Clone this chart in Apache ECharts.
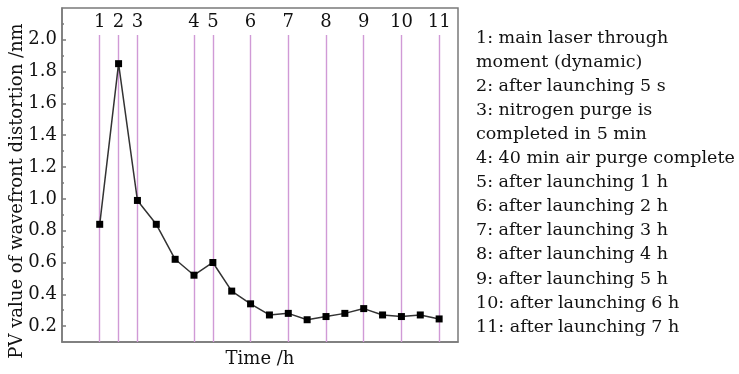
<!DOCTYPE html>
<html>
<head>
<meta charset="utf-8">
<script src="https://cdn.jsdelivr.net/npm/echarts@6/dist/echarts.min.js"></script>
<style>
html,body{margin:0;padding:0;background:#fff;}
#chart{width:739px;height:374px;}
</style>
</head>
<body>
<div id="chart"></div>
<script>
// measurement index (x) and PV value (nm)
const xIndex = [1,2,3,4,5,6,7,8,9,10,11,12,13,14,15,16,17,18,19];
const pvValues = [0.84,1.85,0.99,0.84,0.62,0.52,0.60,0.42,0.34,0.27,0.28,0.24,0.26,0.28,0.31,0.27,0.26,0.27,0.245];
// event markers (vertical lines) at measurement index
const eventIdx = [1,2,3,6,7,9,11,13,15,17,19];
const eventLabels = ['1','2','3','4','5','6','7','8','9','10','11'];
const legendLines = [
  '1: main laser through',
  'moment (dynamic)',
  '2: after launching 5 s',
  '3: nitrogen purge is',
  'completed in 5 min',
  '4: 40 min air purge complete',
  '5: after launching 1 h',
  '6: after launching 2 h',
  '7: after launching 3 h',
  '8: after launching 4 h',
  '9: after launching 5 h',
  '10: after launching 6 h',
  '11: after launching 7 h'
];
const yTickLabels = [0.2,0.4,0.6,0.8,1.0,1.2,1.4,1.6,1.8,2.0];
const yMinorTicks = [0.3,0.5,0.7,0.9,1.1,1.3,1.5,1.7,1.9,2.1];
const yTitle = 'PV value of wavefront distortion /nm';
const xTitle = 'Time /h';

const FONT = 'DejaVu Serif';
const chart = echarts.init(document.getElementById('chart'));
const axisGray = '#7a7a7a';
const markColor = '#d09ad6';

const markData = eventIdx.map((x, i) => [
  {coord: [x, 0.1], name: eventLabels[i], lineStyle: {color: markColor, width: 1.4}},
  {coord: [x, 2.03]}
]);

chart.setOption({
  animation: false,
  backgroundColor: '#fff',
  textStyle: {fontFamily: FONT},
  grid: {left: 62, right: 281, top: 8, bottom: 32, outerBoundsMode: 'none', containLabel: false,
         show: true, borderColor: axisGray, borderWidth: 1.5, backgroundColor: 'transparent'},
  xAxis: {
    type: 'value', min: -1, max: 20,
    name: xTitle, nameLocation: 'middle', nameGap: 8,
    nameTextStyle: {fontFamily: FONT, fontSize: 18, color: '#111'},
    axisLine: {show: true, onZero: false, lineStyle: {color: axisGray, width: 1.5}},
    axisTick: {show: false}, axisLabel: {show: false}, splitLine: {show: false}
  },
  yAxis: [{
    type: 'value', min: 0.1, max: 2.2,
    axisLine: {show: true, onZero: false, lineStyle: {color: axisGray, width: 1.5}},
    axisTick: {show: true, inside: true, length: 4, lineStyle: {color: axisGray, width: 1.5}, customValues: yTickLabels},
    axisLabel: {fontFamily: FONT, fontSize: 18, color: '#111', margin: 5, customValues: yTickLabels, formatter: v => v.toFixed(1)},
    splitLine: {show: false}
  }, {
    type: 'value', min: 0.1, max: 2.2, position: 'left',
    axisLine: {show: false, onZero: false},
    axisTick: {show: true, inside: true, length: 2, lineStyle: {color: axisGray, width: 1.5}, customValues: yMinorTicks},
    axisLabel: {show: false}, splitLine: {show: false}
  }],
  series: [{
    type: 'line',
    data: xIndex.map((x, i) => [x, pvValues[i]]),
    symbol: 'rect', symbolSize: 7,
    itemStyle: {color: '#000'},
    lineStyle: {color: '#333', width: 1.5},
    z: 5,
    markLine: {
      silent: true, symbol: 'none',
      lineStyle: {color: markColor, width: 1.4, type: 'solid'},
      label: {show: true, position: 'end', distance: 4, formatter: p => p.name, fontFamily: FONT, fontSize: 18, color: '#111'},
      data: markData
    }
  }],
  graphic: [{
    type: 'text', left: 476, top: 26,
    style: {text: legendLines.join('\n'), font: '17.5px "' + FONT + '"', lineHeight: 24.1, fill: '#111'}
  }, {
    type: 'text', x: 17, y: 191, rotation: Math.PI / 2,
    style: {text: yTitle, font: '18px "' + FONT + '"', fill: '#111', align: 'center', verticalAlign: 'middle'}
  }]
});
</script>
</body>
</html>
